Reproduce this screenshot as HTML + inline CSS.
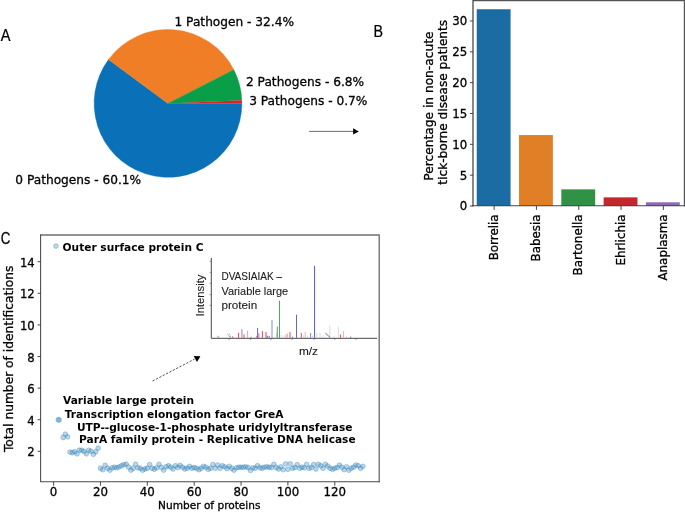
<!DOCTYPE html>
<html lang="en"><head><meta charset="utf-8"><title>Figure</title>
<style>
html,body{margin:0;padding:0;background:#fff;}
body{width:685px;height:512px;overflow:hidden;}
svg{display:block;}
.dv{font-family:"DejaVu Sans","Liberation Sans",sans-serif;fill:#000;stroke:#000;stroke-width:0.3px;}
.dvb{font-family:"DejaVu Sans","Liberation Sans",sans-serif;font-weight:bold;fill:#000;}
.cal2{font-family:"Liberation Sans","DejaVu Sans",sans-serif;fill:#1a1a1a;stroke:#1a1a1a;stroke-width:0.1px;}
.cal{font-family:"Liberation Sans","DejaVu Sans",sans-serif;fill:#000;stroke:#000;stroke-width:0.25px;}
</style></head><body>
<svg width="685" height="512" viewBox="0 0 685 512">
<rect x="0" y="0" width="685" height="512" fill="#ffffff"/>

<g id="pie">
<path d="M168.00,103.40 L108.49,59.59 A73.9,73.9 0 1 0 241.90,103.40 Z" fill="#0a70b8" stroke="#0a70b8" stroke-width="0.4"/>
<path d="M168.00,103.40 L233.85,69.85 A73.9,73.9 0 0 0 108.49,59.59 Z" fill="#f07e26" stroke="#f07e26" stroke-width="0.4"/>
<path d="M168.00,103.40 L241.83,100.15 A73.9,73.9 0 0 0 233.85,69.85 Z" fill="#0a9e49" stroke="#0a9e49" stroke-width="0.4"/>
<path d="M168.00,103.40 L241.90,103.40 A73.9,73.9 0 0 0 241.83,100.15 Z" fill="#d9232b" stroke="#d9232b" stroke-width="0.0"/>
</g>
<text class="dv" x="174.5" y="25.5" font-size="12.18">1 Pathogen - 32.4%</text>
<text class="dv" x="246.0" y="86.3" font-size="12.18">2 Pathogens - 6.8%</text>
<text class="dv" x="249.2" y="104.7" font-size="12.18">3 Pathogens - 0.7%</text>
<text class="dv" x="15.3" y="184.3" font-size="12.18">0 Pathogens - 60.1%</text>
<text class="cal" transform="translate(0.8,40.8) scale(0.9,1)" font-size="16.2">A</text>
<text class="cal" transform="translate(373.6,37.0) scale(0.88,1)" font-size="16.2">B</text>
<text class="cal" transform="translate(0.7,244.2) scale(0.86,1)" font-size="15.6">C</text>
<line x1="309.1" y1="131.4" x2="354" y2="131.4" stroke="#4a4a4a" stroke-width="0.8"/>
<path d="M353.1,128.3 L358.8,131.4 L353.1,134.4 Z" fill="#000"/>
<g id="bars">
<rect x="476.73" y="9.24" width="33.84" height="196.76" fill="#1b6ca3"/>
<rect x="519.03" y="135.07" width="33.84" height="70.93" fill="#e17f27"/>
<rect x="561.33" y="189.35" width="33.84" height="16.65" fill="#2f9245"/>
<rect x="603.63" y="197.36" width="33.84" height="8.64" fill="#c2282d"/>
<rect x="645.93" y="202.30" width="33.84" height="3.70" fill="#9268b4"/>
<path d="M473.0,206.3 L473.0,0.5 L684.5,0.5 L684.5,206.3" fill="none" stroke="#555" stroke-width="1.4"/>
<line x1="472.3" y1="205.75" x2="685.2" y2="205.75" stroke="#444" stroke-width="1.05"/>
<line x1="494.15" y1="206.0" x2="494.15" y2="209.9" stroke="#333" stroke-width="0.9"/>
<text class="dv" font-size="11.9" text-anchor="end" transform="translate(497.75,214.4) rotate(-90)">Borrelia</text>
<line x1="536.45" y1="206.0" x2="536.45" y2="209.9" stroke="#333" stroke-width="0.9"/>
<text class="dv" font-size="11.9" text-anchor="end" transform="translate(540.05,214.4) rotate(-90)">Babesia</text>
<line x1="578.75" y1="206.0" x2="578.75" y2="209.9" stroke="#333" stroke-width="0.9"/>
<text class="dv" font-size="11.9" text-anchor="end" transform="translate(582.35,214.4) rotate(-90)">Bartonella</text>
<line x1="621.05" y1="206.0" x2="621.05" y2="209.9" stroke="#333" stroke-width="0.9"/>
<text class="dv" font-size="11.9" text-anchor="end" transform="translate(624.65,214.4) rotate(-90)">Ehrlichia</text>
<line x1="663.35" y1="206.0" x2="663.35" y2="209.9" stroke="#333" stroke-width="0.9"/>
<text class="dv" font-size="11.9" text-anchor="end" transform="translate(666.95,214.4) rotate(-90)">Anaplasma</text>
<line x1="469.9" y1="206.00" x2="473.0" y2="206.00" stroke="#333" stroke-width="0.9"/>
<text class="dv" font-size="11.75" text-anchor="end" x="467.20" y="210.40">0</text>
<line x1="469.9" y1="175.16" x2="473.0" y2="175.16" stroke="#333" stroke-width="0.9"/>
<text class="dv" font-size="11.75" text-anchor="end" x="467.20" y="179.56">5</text>
<line x1="469.9" y1="144.32" x2="473.0" y2="144.32" stroke="#333" stroke-width="0.9"/>
<text class="dv" font-size="11.75" text-anchor="end" x="467.20" y="148.72">10</text>
<line x1="469.9" y1="113.48" x2="473.0" y2="113.48" stroke="#333" stroke-width="0.9"/>
<text class="dv" font-size="11.75" text-anchor="end" x="467.20" y="117.88">15</text>
<line x1="469.9" y1="82.64" x2="473.0" y2="82.64" stroke="#333" stroke-width="0.9"/>
<text class="dv" font-size="11.75" text-anchor="end" x="467.20" y="87.04">20</text>
<line x1="469.9" y1="51.80" x2="473.0" y2="51.80" stroke="#333" stroke-width="0.9"/>
<text class="dv" font-size="11.75" text-anchor="end" x="467.20" y="56.20">25</text>
<line x1="469.9" y1="20.96" x2="473.0" y2="20.96" stroke="#333" stroke-width="0.9"/>
<text class="dv" font-size="11.75" text-anchor="end" x="467.20" y="25.36">30</text>
<text class="dv" font-size="12.22" text-anchor="middle" transform="translate(432.8,106.1) rotate(-90)">Percentage in non-acute</text>
<text class="dv" font-size="12.17" text-anchor="middle" transform="translate(446.5,102.25) rotate(-90)">tick-borne disease patients</text>
</g>
<g id="scatter">
<circle cx="55.94" cy="246.10" r="2.4" fill="#1f77b4" fill-opacity="0.30" stroke="#1f77b4" stroke-opacity="0.38" stroke-width="0.8"/>
<circle cx="58.29" cy="419.70" r="2.4" fill="#1f77b4" fill-opacity="0.30" stroke="#1f77b4" stroke-opacity="0.38" stroke-width="0.8"/>
<circle cx="59.11" cy="420.00" r="2.4" fill="#1f77b4" fill-opacity="0.30" stroke="#1f77b4" stroke-opacity="0.38" stroke-width="0.8"/>
<circle cx="63.21" cy="437.50" r="2.4" fill="#1f77b4" fill-opacity="0.30" stroke="#1f77b4" stroke-opacity="0.38" stroke-width="0.8"/>
<circle cx="65.31" cy="434.20" r="2.4" fill="#1f77b4" fill-opacity="0.30" stroke="#1f77b4" stroke-opacity="0.38" stroke-width="0.8"/>
<circle cx="67.66" cy="436.90" r="2.4" fill="#1f77b4" fill-opacity="0.30" stroke="#1f77b4" stroke-opacity="0.38" stroke-width="0.8"/>
<circle cx="70.00" cy="452.06" r="2.4" fill="#1f77b4" fill-opacity="0.30" stroke="#1f77b4" stroke-opacity="0.38" stroke-width="0.8"/>
<circle cx="72.34" cy="452.77" r="2.4" fill="#1f77b4" fill-opacity="0.30" stroke="#1f77b4" stroke-opacity="0.38" stroke-width="0.8"/>
<circle cx="74.69" cy="451.75" r="2.4" fill="#1f77b4" fill-opacity="0.30" stroke="#1f77b4" stroke-opacity="0.38" stroke-width="0.8"/>
<circle cx="77.03" cy="453.80" r="2.4" fill="#1f77b4" fill-opacity="0.30" stroke="#1f77b4" stroke-opacity="0.38" stroke-width="0.8"/>
<circle cx="79.37" cy="450.22" r="2.4" fill="#1f77b4" fill-opacity="0.30" stroke="#1f77b4" stroke-opacity="0.38" stroke-width="0.8"/>
<circle cx="81.72" cy="450.22" r="2.4" fill="#1f77b4" fill-opacity="0.30" stroke="#1f77b4" stroke-opacity="0.38" stroke-width="0.8"/>
<circle cx="84.06" cy="451.44" r="2.4" fill="#1f77b4" fill-opacity="0.30" stroke="#1f77b4" stroke-opacity="0.38" stroke-width="0.8"/>
<circle cx="86.40" cy="453.80" r="2.4" fill="#1f77b4" fill-opacity="0.30" stroke="#1f77b4" stroke-opacity="0.38" stroke-width="0.8"/>
<circle cx="88.75" cy="450.22" r="2.4" fill="#1f77b4" fill-opacity="0.30" stroke="#1f77b4" stroke-opacity="0.38" stroke-width="0.8"/>
<circle cx="91.09" cy="451.24" r="2.4" fill="#1f77b4" fill-opacity="0.30" stroke="#1f77b4" stroke-opacity="0.38" stroke-width="0.8"/>
<circle cx="93.43" cy="454.31" r="2.4" fill="#1f77b4" fill-opacity="0.30" stroke="#1f77b4" stroke-opacity="0.38" stroke-width="0.8"/>
<circle cx="95.77" cy="451.75" r="2.4" fill="#1f77b4" fill-opacity="0.30" stroke="#1f77b4" stroke-opacity="0.38" stroke-width="0.8"/>
<circle cx="98.12" cy="448.17" r="2.4" fill="#1f77b4" fill-opacity="0.30" stroke="#1f77b4" stroke-opacity="0.38" stroke-width="0.8"/>
<circle cx="100.46" cy="468.25" r="2.4" fill="#1f77b4" fill-opacity="0.30" stroke="#1f77b4" stroke-opacity="0.38" stroke-width="0.8"/>
<circle cx="102.80" cy="469.71" r="2.4" fill="#1f77b4" fill-opacity="0.30" stroke="#1f77b4" stroke-opacity="0.38" stroke-width="0.8"/>
<circle cx="105.15" cy="465.33" r="2.4" fill="#1f77b4" fill-opacity="0.30" stroke="#1f77b4" stroke-opacity="0.38" stroke-width="0.8"/>
<circle cx="107.49" cy="468.25" r="2.4" fill="#1f77b4" fill-opacity="0.30" stroke="#1f77b4" stroke-opacity="0.38" stroke-width="0.8"/>
<circle cx="109.83" cy="470.15" r="2.4" fill="#1f77b4" fill-opacity="0.30" stroke="#1f77b4" stroke-opacity="0.38" stroke-width="0.8"/>
<circle cx="112.18" cy="467.81" r="2.4" fill="#1f77b4" fill-opacity="0.30" stroke="#1f77b4" stroke-opacity="0.38" stroke-width="0.8"/>
<circle cx="114.52" cy="467.23" r="2.4" fill="#1f77b4" fill-opacity="0.30" stroke="#1f77b4" stroke-opacity="0.38" stroke-width="0.8"/>
<circle cx="116.86" cy="467.81" r="2.4" fill="#1f77b4" fill-opacity="0.30" stroke="#1f77b4" stroke-opacity="0.38" stroke-width="0.8"/>
<circle cx="119.20" cy="466.79" r="2.4" fill="#1f77b4" fill-opacity="0.30" stroke="#1f77b4" stroke-opacity="0.38" stroke-width="0.8"/>
<circle cx="121.55" cy="465.77" r="2.4" fill="#1f77b4" fill-opacity="0.30" stroke="#1f77b4" stroke-opacity="0.38" stroke-width="0.8"/>
<circle cx="123.89" cy="464.60" r="2.4" fill="#1f77b4" fill-opacity="0.30" stroke="#1f77b4" stroke-opacity="0.38" stroke-width="0.8"/>
<circle cx="126.23" cy="464.16" r="2.4" fill="#1f77b4" fill-opacity="0.30" stroke="#1f77b4" stroke-opacity="0.38" stroke-width="0.8"/>
<circle cx="128.58" cy="467.23" r="2.4" fill="#1f77b4" fill-opacity="0.30" stroke="#1f77b4" stroke-opacity="0.38" stroke-width="0.8"/>
<circle cx="130.92" cy="470.15" r="2.4" fill="#1f77b4" fill-opacity="0.30" stroke="#1f77b4" stroke-opacity="0.38" stroke-width="0.8"/>
<circle cx="133.26" cy="468.25" r="2.4" fill="#1f77b4" fill-opacity="0.30" stroke="#1f77b4" stroke-opacity="0.38" stroke-width="0.8"/>
<circle cx="135.60" cy="464.16" r="2.4" fill="#1f77b4" fill-opacity="0.30" stroke="#1f77b4" stroke-opacity="0.38" stroke-width="0.8"/>
<circle cx="137.95" cy="467.81" r="2.4" fill="#1f77b4" fill-opacity="0.30" stroke="#1f77b4" stroke-opacity="0.38" stroke-width="0.8"/>
<circle cx="140.29" cy="468.25" r="2.4" fill="#1f77b4" fill-opacity="0.30" stroke="#1f77b4" stroke-opacity="0.38" stroke-width="0.8"/>
<circle cx="142.63" cy="470.15" r="2.4" fill="#1f77b4" fill-opacity="0.30" stroke="#1f77b4" stroke-opacity="0.38" stroke-width="0.8"/>
<circle cx="144.98" cy="468.98" r="2.4" fill="#1f77b4" fill-opacity="0.30" stroke="#1f77b4" stroke-opacity="0.38" stroke-width="0.8"/>
<circle cx="147.32" cy="468.25" r="2.4" fill="#1f77b4" fill-opacity="0.30" stroke="#1f77b4" stroke-opacity="0.38" stroke-width="0.8"/>
<circle cx="149.66" cy="464.60" r="2.4" fill="#1f77b4" fill-opacity="0.30" stroke="#1f77b4" stroke-opacity="0.38" stroke-width="0.8"/>
<circle cx="152.01" cy="468.25" r="2.4" fill="#1f77b4" fill-opacity="0.30" stroke="#1f77b4" stroke-opacity="0.38" stroke-width="0.8"/>
<circle cx="154.35" cy="469.27" r="2.4" fill="#1f77b4" fill-opacity="0.30" stroke="#1f77b4" stroke-opacity="0.38" stroke-width="0.8"/>
<circle cx="156.69" cy="467.81" r="2.4" fill="#1f77b4" fill-opacity="0.30" stroke="#1f77b4" stroke-opacity="0.38" stroke-width="0.8"/>
<circle cx="159.03" cy="464.31" r="2.4" fill="#1f77b4" fill-opacity="0.30" stroke="#1f77b4" stroke-opacity="0.38" stroke-width="0.8"/>
<circle cx="161.38" cy="467.52" r="2.4" fill="#1f77b4" fill-opacity="0.30" stroke="#1f77b4" stroke-opacity="0.38" stroke-width="0.8"/>
<circle cx="163.72" cy="470.15" r="2.4" fill="#1f77b4" fill-opacity="0.30" stroke="#1f77b4" stroke-opacity="0.38" stroke-width="0.8"/>
<circle cx="166.06" cy="466.79" r="2.4" fill="#1f77b4" fill-opacity="0.30" stroke="#1f77b4" stroke-opacity="0.38" stroke-width="0.8"/>
<circle cx="168.41" cy="465.77" r="2.4" fill="#1f77b4" fill-opacity="0.30" stroke="#1f77b4" stroke-opacity="0.38" stroke-width="0.8"/>
<circle cx="170.75" cy="467.23" r="2.4" fill="#1f77b4" fill-opacity="0.30" stroke="#1f77b4" stroke-opacity="0.38" stroke-width="0.8"/>
<circle cx="173.09" cy="468.98" r="2.4" fill="#1f77b4" fill-opacity="0.30" stroke="#1f77b4" stroke-opacity="0.38" stroke-width="0.8"/>
<circle cx="175.44" cy="465.77" r="2.4" fill="#1f77b4" fill-opacity="0.30" stroke="#1f77b4" stroke-opacity="0.38" stroke-width="0.8"/>
<circle cx="177.78" cy="467.52" r="2.4" fill="#1f77b4" fill-opacity="0.30" stroke="#1f77b4" stroke-opacity="0.38" stroke-width="0.8"/>
<circle cx="180.12" cy="465.33" r="2.4" fill="#1f77b4" fill-opacity="0.30" stroke="#1f77b4" stroke-opacity="0.38" stroke-width="0.8"/>
<circle cx="182.47" cy="467.23" r="2.4" fill="#1f77b4" fill-opacity="0.30" stroke="#1f77b4" stroke-opacity="0.38" stroke-width="0.8"/>
<circle cx="184.81" cy="468.98" r="2.4" fill="#1f77b4" fill-opacity="0.30" stroke="#1f77b4" stroke-opacity="0.38" stroke-width="0.8"/>
<circle cx="187.15" cy="468.25" r="2.4" fill="#1f77b4" fill-opacity="0.30" stroke="#1f77b4" stroke-opacity="0.38" stroke-width="0.8"/>
<circle cx="189.49" cy="466.35" r="2.4" fill="#1f77b4" fill-opacity="0.30" stroke="#1f77b4" stroke-opacity="0.38" stroke-width="0.8"/>
<circle cx="191.84" cy="468.25" r="2.4" fill="#1f77b4" fill-opacity="0.30" stroke="#1f77b4" stroke-opacity="0.38" stroke-width="0.8"/>
<circle cx="194.18" cy="467.52" r="2.4" fill="#1f77b4" fill-opacity="0.30" stroke="#1f77b4" stroke-opacity="0.38" stroke-width="0.8"/>
<circle cx="196.52" cy="468.25" r="2.4" fill="#1f77b4" fill-opacity="0.30" stroke="#1f77b4" stroke-opacity="0.38" stroke-width="0.8"/>
<circle cx="198.87" cy="469.71" r="2.4" fill="#1f77b4" fill-opacity="0.30" stroke="#1f77b4" stroke-opacity="0.38" stroke-width="0.8"/>
<circle cx="201.21" cy="468.25" r="2.4" fill="#1f77b4" fill-opacity="0.30" stroke="#1f77b4" stroke-opacity="0.38" stroke-width="0.8"/>
<circle cx="203.55" cy="466.35" r="2.4" fill="#1f77b4" fill-opacity="0.30" stroke="#1f77b4" stroke-opacity="0.38" stroke-width="0.8"/>
<circle cx="205.89" cy="467.23" r="2.4" fill="#1f77b4" fill-opacity="0.30" stroke="#1f77b4" stroke-opacity="0.38" stroke-width="0.8"/>
<circle cx="208.24" cy="469.27" r="2.4" fill="#1f77b4" fill-opacity="0.30" stroke="#1f77b4" stroke-opacity="0.38" stroke-width="0.8"/>
<circle cx="210.58" cy="468.25" r="2.4" fill="#1f77b4" fill-opacity="0.30" stroke="#1f77b4" stroke-opacity="0.38" stroke-width="0.8"/>
<circle cx="212.92" cy="464.60" r="2.4" fill="#1f77b4" fill-opacity="0.30" stroke="#1f77b4" stroke-opacity="0.38" stroke-width="0.8"/>
<circle cx="215.27" cy="468.25" r="2.4" fill="#1f77b4" fill-opacity="0.30" stroke="#1f77b4" stroke-opacity="0.38" stroke-width="0.8"/>
<circle cx="217.61" cy="465.04" r="2.4" fill="#1f77b4" fill-opacity="0.30" stroke="#1f77b4" stroke-opacity="0.38" stroke-width="0.8"/>
<circle cx="219.95" cy="468.25" r="2.4" fill="#1f77b4" fill-opacity="0.30" stroke="#1f77b4" stroke-opacity="0.38" stroke-width="0.8"/>
<circle cx="222.30" cy="465.77" r="2.4" fill="#1f77b4" fill-opacity="0.30" stroke="#1f77b4" stroke-opacity="0.38" stroke-width="0.8"/>
<circle cx="224.64" cy="466.79" r="2.4" fill="#1f77b4" fill-opacity="0.30" stroke="#1f77b4" stroke-opacity="0.38" stroke-width="0.8"/>
<circle cx="226.98" cy="468.69" r="2.4" fill="#1f77b4" fill-opacity="0.30" stroke="#1f77b4" stroke-opacity="0.38" stroke-width="0.8"/>
<circle cx="229.32" cy="466.35" r="2.4" fill="#1f77b4" fill-opacity="0.30" stroke="#1f77b4" stroke-opacity="0.38" stroke-width="0.8"/>
<circle cx="231.67" cy="468.25" r="2.4" fill="#1f77b4" fill-opacity="0.30" stroke="#1f77b4" stroke-opacity="0.38" stroke-width="0.8"/>
<circle cx="234.01" cy="470.15" r="2.4" fill="#1f77b4" fill-opacity="0.30" stroke="#1f77b4" stroke-opacity="0.38" stroke-width="0.8"/>
<circle cx="236.35" cy="467.81" r="2.4" fill="#1f77b4" fill-opacity="0.30" stroke="#1f77b4" stroke-opacity="0.38" stroke-width="0.8"/>
<circle cx="238.70" cy="467.23" r="2.4" fill="#1f77b4" fill-opacity="0.30" stroke="#1f77b4" stroke-opacity="0.38" stroke-width="0.8"/>
<circle cx="241.04" cy="467.23" r="2.4" fill="#1f77b4" fill-opacity="0.30" stroke="#1f77b4" stroke-opacity="0.38" stroke-width="0.8"/>
<circle cx="243.38" cy="467.23" r="2.4" fill="#1f77b4" fill-opacity="0.30" stroke="#1f77b4" stroke-opacity="0.38" stroke-width="0.8"/>
<circle cx="245.73" cy="466.79" r="2.4" fill="#1f77b4" fill-opacity="0.30" stroke="#1f77b4" stroke-opacity="0.38" stroke-width="0.8"/>
<circle cx="248.07" cy="467.52" r="2.4" fill="#1f77b4" fill-opacity="0.30" stroke="#1f77b4" stroke-opacity="0.38" stroke-width="0.8"/>
<circle cx="250.41" cy="470.44" r="2.4" fill="#1f77b4" fill-opacity="0.30" stroke="#1f77b4" stroke-opacity="0.38" stroke-width="0.8"/>
<circle cx="252.75" cy="467.81" r="2.4" fill="#1f77b4" fill-opacity="0.30" stroke="#1f77b4" stroke-opacity="0.38" stroke-width="0.8"/>
<circle cx="255.10" cy="468.25" r="2.4" fill="#1f77b4" fill-opacity="0.30" stroke="#1f77b4" stroke-opacity="0.38" stroke-width="0.8"/>
<circle cx="257.44" cy="465.77" r="2.4" fill="#1f77b4" fill-opacity="0.30" stroke="#1f77b4" stroke-opacity="0.38" stroke-width="0.8"/>
<circle cx="259.78" cy="467.81" r="2.4" fill="#1f77b4" fill-opacity="0.30" stroke="#1f77b4" stroke-opacity="0.38" stroke-width="0.8"/>
<circle cx="262.13" cy="468.25" r="2.4" fill="#1f77b4" fill-opacity="0.30" stroke="#1f77b4" stroke-opacity="0.38" stroke-width="0.8"/>
<circle cx="264.47" cy="467.23" r="2.4" fill="#1f77b4" fill-opacity="0.30" stroke="#1f77b4" stroke-opacity="0.38" stroke-width="0.8"/>
<circle cx="266.81" cy="466.79" r="2.4" fill="#1f77b4" fill-opacity="0.30" stroke="#1f77b4" stroke-opacity="0.38" stroke-width="0.8"/>
<circle cx="269.16" cy="467.23" r="2.4" fill="#1f77b4" fill-opacity="0.30" stroke="#1f77b4" stroke-opacity="0.38" stroke-width="0.8"/>
<circle cx="271.50" cy="467.52" r="2.4" fill="#1f77b4" fill-opacity="0.30" stroke="#1f77b4" stroke-opacity="0.38" stroke-width="0.8"/>
<circle cx="273.84" cy="464.31" r="2.4" fill="#1f77b4" fill-opacity="0.30" stroke="#1f77b4" stroke-opacity="0.38" stroke-width="0.8"/>
<circle cx="276.19" cy="467.52" r="2.4" fill="#1f77b4" fill-opacity="0.30" stroke="#1f77b4" stroke-opacity="0.38" stroke-width="0.8"/>
<circle cx="278.53" cy="468.98" r="2.4" fill="#1f77b4" fill-opacity="0.30" stroke="#1f77b4" stroke-opacity="0.38" stroke-width="0.8"/>
<circle cx="280.87" cy="466.79" r="2.4" fill="#1f77b4" fill-opacity="0.30" stroke="#1f77b4" stroke-opacity="0.38" stroke-width="0.8"/>
<circle cx="283.21" cy="469.71" r="2.4" fill="#1f77b4" fill-opacity="0.30" stroke="#1f77b4" stroke-opacity="0.38" stroke-width="0.8"/>
<circle cx="285.56" cy="463.87" r="2.4" fill="#1f77b4" fill-opacity="0.30" stroke="#1f77b4" stroke-opacity="0.38" stroke-width="0.8"/>
<circle cx="287.90" cy="469.27" r="2.4" fill="#1f77b4" fill-opacity="0.30" stroke="#1f77b4" stroke-opacity="0.38" stroke-width="0.8"/>
<circle cx="290.24" cy="463.87" r="2.4" fill="#1f77b4" fill-opacity="0.30" stroke="#1f77b4" stroke-opacity="0.38" stroke-width="0.8"/>
<circle cx="292.59" cy="468.25" r="2.4" fill="#1f77b4" fill-opacity="0.30" stroke="#1f77b4" stroke-opacity="0.38" stroke-width="0.8"/>
<circle cx="294.93" cy="467.52" r="2.4" fill="#1f77b4" fill-opacity="0.30" stroke="#1f77b4" stroke-opacity="0.38" stroke-width="0.8"/>
<circle cx="297.27" cy="464.60" r="2.4" fill="#1f77b4" fill-opacity="0.30" stroke="#1f77b4" stroke-opacity="0.38" stroke-width="0.8"/>
<circle cx="299.62" cy="468.25" r="2.4" fill="#1f77b4" fill-opacity="0.30" stroke="#1f77b4" stroke-opacity="0.38" stroke-width="0.8"/>
<circle cx="301.96" cy="467.23" r="2.4" fill="#1f77b4" fill-opacity="0.30" stroke="#1f77b4" stroke-opacity="0.38" stroke-width="0.8"/>
<circle cx="304.30" cy="467.81" r="2.4" fill="#1f77b4" fill-opacity="0.30" stroke="#1f77b4" stroke-opacity="0.38" stroke-width="0.8"/>
<circle cx="306.64" cy="464.31" r="2.4" fill="#1f77b4" fill-opacity="0.30" stroke="#1f77b4" stroke-opacity="0.38" stroke-width="0.8"/>
<circle cx="308.99" cy="468.25" r="2.4" fill="#1f77b4" fill-opacity="0.30" stroke="#1f77b4" stroke-opacity="0.38" stroke-width="0.8"/>
<circle cx="311.33" cy="467.52" r="2.4" fill="#1f77b4" fill-opacity="0.30" stroke="#1f77b4" stroke-opacity="0.38" stroke-width="0.8"/>
<circle cx="313.67" cy="464.60" r="2.4" fill="#1f77b4" fill-opacity="0.30" stroke="#1f77b4" stroke-opacity="0.38" stroke-width="0.8"/>
<circle cx="316.02" cy="468.98" r="2.4" fill="#1f77b4" fill-opacity="0.30" stroke="#1f77b4" stroke-opacity="0.38" stroke-width="0.8"/>
<circle cx="318.36" cy="464.31" r="2.4" fill="#1f77b4" fill-opacity="0.30" stroke="#1f77b4" stroke-opacity="0.38" stroke-width="0.8"/>
<circle cx="320.70" cy="465.77" r="2.4" fill="#1f77b4" fill-opacity="0.30" stroke="#1f77b4" stroke-opacity="0.38" stroke-width="0.8"/>
<circle cx="323.05" cy="468.25" r="2.4" fill="#1f77b4" fill-opacity="0.30" stroke="#1f77b4" stroke-opacity="0.38" stroke-width="0.8"/>
<circle cx="325.39" cy="464.31" r="2.4" fill="#1f77b4" fill-opacity="0.30" stroke="#1f77b4" stroke-opacity="0.38" stroke-width="0.8"/>
<circle cx="327.73" cy="466.06" r="2.4" fill="#1f77b4" fill-opacity="0.30" stroke="#1f77b4" stroke-opacity="0.38" stroke-width="0.8"/>
<circle cx="330.07" cy="468.25" r="2.4" fill="#1f77b4" fill-opacity="0.30" stroke="#1f77b4" stroke-opacity="0.38" stroke-width="0.8"/>
<circle cx="332.42" cy="469.27" r="2.4" fill="#1f77b4" fill-opacity="0.30" stroke="#1f77b4" stroke-opacity="0.38" stroke-width="0.8"/>
<circle cx="334.76" cy="468.25" r="2.4" fill="#1f77b4" fill-opacity="0.30" stroke="#1f77b4" stroke-opacity="0.38" stroke-width="0.8"/>
<circle cx="337.10" cy="467.52" r="2.4" fill="#1f77b4" fill-opacity="0.30" stroke="#1f77b4" stroke-opacity="0.38" stroke-width="0.8"/>
<circle cx="339.45" cy="465.04" r="2.4" fill="#1f77b4" fill-opacity="0.30" stroke="#1f77b4" stroke-opacity="0.38" stroke-width="0.8"/>
<circle cx="341.79" cy="467.23" r="2.4" fill="#1f77b4" fill-opacity="0.30" stroke="#1f77b4" stroke-opacity="0.38" stroke-width="0.8"/>
<circle cx="344.13" cy="469.71" r="2.4" fill="#1f77b4" fill-opacity="0.30" stroke="#1f77b4" stroke-opacity="0.38" stroke-width="0.8"/>
<circle cx="346.48" cy="466.79" r="2.4" fill="#1f77b4" fill-opacity="0.30" stroke="#1f77b4" stroke-opacity="0.38" stroke-width="0.8"/>
<circle cx="348.82" cy="470.15" r="2.4" fill="#1f77b4" fill-opacity="0.30" stroke="#1f77b4" stroke-opacity="0.38" stroke-width="0.8"/>
<circle cx="351.16" cy="468.25" r="2.4" fill="#1f77b4" fill-opacity="0.30" stroke="#1f77b4" stroke-opacity="0.38" stroke-width="0.8"/>
<circle cx="353.50" cy="467.23" r="2.4" fill="#1f77b4" fill-opacity="0.30" stroke="#1f77b4" stroke-opacity="0.38" stroke-width="0.8"/>
<circle cx="355.85" cy="465.04" r="2.4" fill="#1f77b4" fill-opacity="0.30" stroke="#1f77b4" stroke-opacity="0.38" stroke-width="0.8"/>
<circle cx="358.19" cy="465.77" r="2.4" fill="#1f77b4" fill-opacity="0.30" stroke="#1f77b4" stroke-opacity="0.38" stroke-width="0.8"/>
<circle cx="360.53" cy="468.25" r="2.4" fill="#1f77b4" fill-opacity="0.30" stroke="#1f77b4" stroke-opacity="0.38" stroke-width="0.8"/>
<circle cx="362.88" cy="466.35" r="2.4" fill="#1f77b4" fill-opacity="0.30" stroke="#1f77b4" stroke-opacity="0.38" stroke-width="0.8"/>
<path d="M40.1,235.0 L379.2,235.0 L379.2,482.3" fill="none" stroke="#707070" stroke-width="1.35"/>
<path d="M40.6,234.4 L40.6,481.8 L379.8,481.8" fill="none" stroke="#4a4a4a" stroke-width="1.05"/>
<line x1="53.60" y1="481.8" x2="53.60" y2="485.7" stroke="#333" stroke-width="0.9"/>
<text class="dv" font-size="11.8" text-anchor="middle" x="53.60" y="495.6">0</text>
<line x1="100.46" y1="481.8" x2="100.46" y2="485.7" stroke="#333" stroke-width="0.9"/>
<text class="dv" font-size="11.8" text-anchor="middle" x="100.46" y="495.6">20</text>
<line x1="147.32" y1="481.8" x2="147.32" y2="485.7" stroke="#333" stroke-width="0.9"/>
<text class="dv" font-size="11.8" text-anchor="middle" x="147.32" y="495.6">40</text>
<line x1="194.18" y1="481.8" x2="194.18" y2="485.7" stroke="#333" stroke-width="0.9"/>
<text class="dv" font-size="11.8" text-anchor="middle" x="194.18" y="495.6">60</text>
<line x1="241.04" y1="481.8" x2="241.04" y2="485.7" stroke="#333" stroke-width="0.9"/>
<text class="dv" font-size="11.8" text-anchor="middle" x="241.04" y="495.6">80</text>
<line x1="287.90" y1="481.8" x2="287.90" y2="485.7" stroke="#333" stroke-width="0.9"/>
<text class="dv" font-size="11.8" text-anchor="middle" x="287.90" y="495.6">100</text>
<line x1="334.76" y1="481.8" x2="334.76" y2="485.7" stroke="#333" stroke-width="0.9"/>
<text class="dv" font-size="11.8" text-anchor="middle" x="334.76" y="495.6">120</text>
<line x1="37.6" y1="451.30" x2="40.6" y2="451.30" stroke="#333" stroke-width="0.9"/>
<text class="dv" font-size="11.65" text-anchor="end" x="34.70" y="456.30">2</text>
<line x1="37.6" y1="419.70" x2="40.6" y2="419.70" stroke="#333" stroke-width="0.9"/>
<text class="dv" font-size="11.65" text-anchor="end" x="34.70" y="424.70">4</text>
<line x1="37.6" y1="388.10" x2="40.6" y2="388.10" stroke="#333" stroke-width="0.9"/>
<text class="dv" font-size="11.65" text-anchor="end" x="34.70" y="393.10">6</text>
<line x1="37.6" y1="356.50" x2="40.6" y2="356.50" stroke="#333" stroke-width="0.9"/>
<text class="dv" font-size="11.65" text-anchor="end" x="34.70" y="361.50">8</text>
<line x1="37.6" y1="324.90" x2="40.6" y2="324.90" stroke="#333" stroke-width="0.9"/>
<text class="dv" font-size="11.65" text-anchor="end" x="34.70" y="329.90">10</text>
<line x1="37.6" y1="293.30" x2="40.6" y2="293.30" stroke="#333" stroke-width="0.9"/>
<text class="dv" font-size="11.65" text-anchor="end" x="34.70" y="298.30">12</text>
<line x1="37.6" y1="261.70" x2="40.6" y2="261.70" stroke="#333" stroke-width="0.9"/>
<text class="dv" font-size="11.65" text-anchor="end" x="34.70" y="266.70">14</text>
<text class="dv" font-size="10.3" x="158.1" y="508.8" textLength="102.4" lengthAdjust="spacingAndGlyphs">Number of proteins</text>
<text class="dv" font-size="12.25" text-anchor="middle" transform="translate(12.9,358.9) rotate(-90)">Total number of identifications</text>
<text class="dvb" font-size="10.62" x="62.6" y="251.0">Outer surface protein C</text>
<text class="dvb" font-size="10.62" x="63.0" y="403.8">Variable large protein</text>
<text class="dvb" font-size="10.62" x="64.8" y="418.4">Transcription elongation factor GreA</text>
<text class="dvb" font-size="10.62" x="77.0" y="431.0">UTP--glucose-1-phosphate uridylyltransferase</text>
<text class="dvb" font-size="10.62" x="79.0" y="443.4">ParA family protein - Replicative DNA helicase</text>
<line x1="152.6" y1="381" x2="194.6" y2="359.1" stroke="#222" stroke-width="0.8" stroke-dasharray="2.2 1.6"/>
<path d="M193.7,356.1 L200.4,356.3 L197.0,361.9 Z" fill="#000"/>
</g>
<g id="inset">
<path d="M211.3,258 L211.3,338.3 L377,338.3" fill="none" stroke="#333" stroke-width="0.9"/>
<line x1="209.70000000000002" y1="261.2" x2="211.3" y2="261.2" stroke="#555" stroke-width="0.6"/>
<line x1="209.70000000000002" y1="272.4" x2="211.3" y2="272.4" stroke="#555" stroke-width="0.6"/>
<line x1="209.70000000000002" y1="283.4" x2="211.3" y2="283.4" stroke="#555" stroke-width="0.6"/>
<line x1="209.70000000000002" y1="294.6" x2="211.3" y2="294.6" stroke="#555" stroke-width="0.6"/>
<line x1="209.70000000000002" y1="305.4" x2="211.3" y2="305.4" stroke="#555" stroke-width="0.6"/>
<line x1="229.5" y1="338.3" x2="228.9" y2="340.1" stroke="#555" stroke-width="0.6"/>
<line x1="250.7" y1="338.3" x2="250.1" y2="340.1" stroke="#555" stroke-width="0.6"/>
<line x1="271.4" y1="338.3" x2="270.79999999999995" y2="340.1" stroke="#555" stroke-width="0.6"/>
<line x1="292.3" y1="338.3" x2="291.7" y2="340.1" stroke="#555" stroke-width="0.6"/>
<line x1="314.5" y1="338.3" x2="313.9" y2="340.1" stroke="#555" stroke-width="0.6"/>
<line x1="335.2" y1="338.3" x2="334.59999999999997" y2="340.1" stroke="#555" stroke-width="0.6"/>
<line x1="356.4" y1="338.3" x2="355.79999999999995" y2="340.1" stroke="#555" stroke-width="0.6"/>
<line x1="218.1" y1="337.90000000000003" x2="218.1" y2="335.8" stroke="#8388d6" stroke-width="1.0"/>
<line x1="232.7" y1="337.90000000000003" x2="232.7" y2="336.3" stroke="#e0474c" stroke-width="0.9"/>
<line x1="238.6" y1="337.90000000000003" x2="238.6" y2="332.8" stroke="#e0474c" stroke-width="1.0"/>
<line x1="241.9" y1="337.90000000000003" x2="241.9" y2="329.2" stroke="#8388d6" stroke-width="1.0"/>
<line x1="244" y1="337.90000000000003" x2="244" y2="334.3" stroke="#e0474c" stroke-width="1.0"/>
<line x1="247.6" y1="337.90000000000003" x2="247.6" y2="330.7" stroke="#eea0a2" stroke-width="1.0"/>
<line x1="251" y1="337.90000000000003" x2="251" y2="336.8" stroke="#5558c0" stroke-width="0.8"/>
<line x1="256.8" y1="337.90000000000003" x2="256.8" y2="335.8" stroke="#e0474c" stroke-width="0.9"/>
<line x1="257.6" y1="337.90000000000003" x2="257.6" y2="328" stroke="#5558c0" stroke-width="0.9"/>
<line x1="258.8" y1="337.90000000000003" x2="258.8" y2="333.3" stroke="#c65ab0" stroke-width="0.9"/>
<line x1="262.4" y1="337.90000000000003" x2="262.4" y2="331.1" stroke="#e0474c" stroke-width="1.0"/>
<line x1="266" y1="337.90000000000003" x2="266" y2="332.1" stroke="#e0474c" stroke-width="1.0"/>
<line x1="267.3" y1="337.90000000000003" x2="267.3" y2="335.8" stroke="#5558c0" stroke-width="0.9"/>
<line x1="269.2" y1="337.90000000000003" x2="269.2" y2="335.8" stroke="#5558c0" stroke-width="0.9"/>
<line x1="272" y1="337.90000000000003" x2="272" y2="320" stroke="#8388d6" stroke-width="1.0"/>
<line x1="276.5" y1="337.90000000000003" x2="276.5" y2="332.8" stroke="#cfcfcf" stroke-width="0.9"/>
<line x1="277.3" y1="337.90000000000003" x2="277.3" y2="326.6" stroke="#3f9b46" stroke-width="0.9"/>
<line x1="279.5" y1="337.90000000000003" x2="279.5" y2="300.7" stroke="#3f9b46" stroke-width="0.9"/>
<line x1="281.5" y1="337.90000000000003" x2="281.5" y2="335" stroke="#cfcfcf" stroke-width="0.8"/>
<line x1="284" y1="337.90000000000003" x2="284" y2="335.5" stroke="#cfcfcf" stroke-width="0.8"/>
<line x1="286" y1="337.90000000000003" x2="286" y2="334.3" stroke="#eea0a2" stroke-width="1.0"/>
<line x1="287.4" y1="337.90000000000003" x2="287.4" y2="333.5" stroke="#eea0a2" stroke-width="0.9"/>
<line x1="290" y1="337.90000000000003" x2="290" y2="332.1" stroke="#e0474c" stroke-width="1.0"/>
<line x1="292.6" y1="337.90000000000003" x2="292.6" y2="336.6" stroke="#5558c0" stroke-width="0.8"/>
<line x1="296.5" y1="337.90000000000003" x2="296.5" y2="314.7" stroke="#5558c0" stroke-width="0.9"/>
<line x1="301.3" y1="337.90000000000003" x2="301.3" y2="333" stroke="#e0474c" stroke-width="0.9"/>
<line x1="303.5" y1="337.90000000000003" x2="303.5" y2="335.5" stroke="#cfcfcf" stroke-width="0.8"/>
<line x1="305.2" y1="337.90000000000003" x2="305.2" y2="332" stroke="#eea0a2" stroke-width="0.9"/>
<line x1="307.5" y1="337.90000000000003" x2="307.5" y2="335.8" stroke="#cfcfcf" stroke-width="0.8"/>
<line x1="310.6" y1="337.90000000000003" x2="310.6" y2="333" stroke="#8388d6" stroke-width="1.0"/>
<line x1="312.5" y1="337.90000000000003" x2="312.5" y2="335.5" stroke="#cfcfcf" stroke-width="0.8"/>
<line x1="314.6" y1="337.90000000000003" x2="314.6" y2="265.8" stroke="#5558c0" stroke-width="1.0"/>
<line x1="316.9" y1="337.90000000000003" x2="316.9" y2="333" stroke="#cfcfcf" stroke-width="0.8"/>
<line x1="320" y1="337.90000000000003" x2="320" y2="333" stroke="#cfcfcf" stroke-width="0.8"/>
<line x1="323" y1="337.90000000000003" x2="323" y2="335.5" stroke="#cfcfcf" stroke-width="0.8"/>
<line x1="329.8" y1="337.90000000000003" x2="329.8" y2="325.8" stroke="#cfcfcf" stroke-width="0.8"/>
<line x1="334" y1="337.90000000000003" x2="334" y2="336" stroke="#cfcfcf" stroke-width="0.8"/>
<line x1="338.4" y1="337.90000000000003" x2="338.4" y2="327.1" stroke="#cfcfcf" stroke-width="0.8"/>
<line x1="340.5" y1="337.90000000000003" x2="340.5" y2="334.4" stroke="#e0474c" stroke-width="0.9"/>
<line x1="343.6" y1="337.90000000000003" x2="343.6" y2="331" stroke="#eea0a2" stroke-width="0.9"/>
<line x1="346.5" y1="337.90000000000003" x2="346.5" y2="336.3" stroke="#cfcfcf" stroke-width="0.8"/>
<line x1="350.7" y1="337.90000000000003" x2="350.7" y2="336.6" stroke="#5558c0" stroke-width="0.9"/>
<line x1="325.3" y1="333" x2="330.2" y2="337.5" stroke="#5558c0" stroke-width="0.9"/>
<line x1="227.4" y1="334.2" x2="230.6" y2="334.2" stroke="#5558c0" stroke-width="0.6" stroke-dasharray="1 0.6"/>
<line x1="228.6" y1="335.6" x2="231" y2="337.4" stroke="#5558c0" stroke-width="0.8"/>
<text class="cal2" font-size="10.9" x="221.4" y="280.4" textLength="60.6" lengthAdjust="spacingAndGlyphs">DVASIAIAK –</text>
<text class="cal2" font-size="10.9" x="221.4" y="295.2" textLength="66.8" lengthAdjust="spacingAndGlyphs">Variable large</text>
<text class="cal2" font-size="10.9" x="221.4" y="309.4" textLength="35.8" lengthAdjust="spacingAndGlyphs">protein</text>
<text class="cal2" font-size="10.9" text-anchor="middle" transform="translate(204.3,295.5) rotate(-90)" textLength="42" lengthAdjust="spacingAndGlyphs">Intensity</text>
<text class="cal2" font-size="10.9" x="298.9" y="354.5" textLength="19" lengthAdjust="spacingAndGlyphs">m/z</text>
</g>
</svg>
</body></html>
